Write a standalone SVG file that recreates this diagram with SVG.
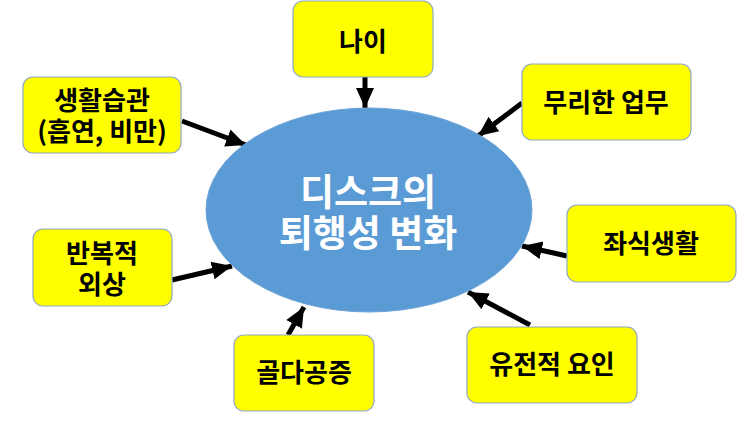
<svg xmlns="http://www.w3.org/2000/svg" width="743" height="427" viewBox="0 0 743 427">
<defs>
<style>
.box{fill:#FFFF00;stroke:#8FA7C0;stroke-width:1.2}
.t{font-family:"Noto Sans CJK KR","Liberation Sans",sans-serif;font-weight:bold;font-size:26px;fill:#000;text-anchor:middle}
.c{font-family:"Noto Sans CJK KR","Liberation Sans",sans-serif;font-weight:bold;font-size:37px;fill:#fff;text-anchor:middle}
.a{stroke:#000;stroke-width:5;fill:none;marker-end:url(#ah)}
</style>
<marker id="ah" markerUnits="userSpaceOnUse" markerWidth="22" markerHeight="22" viewBox="0 0 22 22" refX="20" refY="11" orient="auto">
<path d="M0,2 L20,11 L0,20 Z" fill="#000"/>
</marker>
</defs>
<rect width="743" height="427" fill="#fff"/>
<g id="connectors">
<line class="a" x1="365" y1="77" x2="365" y2="108"/>
<line class="a" x1="182" y1="121" x2="246" y2="145"/>
<line class="a" x1="522" y1="103" x2="478" y2="136"/>
<line class="a" x1="172" y1="280" x2="232" y2="266"/>
<line class="a" x1="567" y1="256" x2="522" y2="246"/>
<line class="a" x1="530" y1="325" x2="468" y2="292"/>
<line class="a" x1="288" y1="335" x2="304" y2="307"/>
</g>
<g id="center">
<ellipse cx="369" cy="210" rx="163" ry="102" fill="#5B9BD5" stroke="#6FA4D8" stroke-width="1"/>
<text class="c" x="368" y="206">디스크의</text>
<text class="c" x="368" y="247">퇴행성 변화</text>
</g>
<g id="n-age">
<rect class="box" x="293" y="1" width="140" height="76" rx="10"/>
<text class="t" x="363" y="51">나이</text>
</g>
<g id="n-habit">
<rect class="box" x="23" y="77" width="158" height="76" rx="10"/>
<text class="t" x="102" y="110">생활습관</text>
<text class="t" x="102" y="141">(흡연, 비만)</text>
</g>
<g id="n-work">
<rect class="box" x="522" y="64" width="169" height="76" rx="10"/>
<text class="t" x="606" y="112">무리한 업무</text>
</g>
<g id="n-trauma">
<rect class="box" x="33" y="229" width="139" height="77" rx="10"/>
<text class="t" x="102" y="263">반복적</text>
<text class="t" x="102" y="294">외상</text>
</g>
<g id="n-sit">
<rect class="box" x="567" y="205" width="169" height="77" rx="10"/>
<text class="t" x="651" y="253">좌식생활</text>
</g>
<g id="n-gene">
<rect class="box" x="467" y="327" width="170" height="76" rx="10"/>
<text class="t" x="552" y="374">유전적 요인</text>
</g>
<g id="n-osteo">
<rect class="box" x="234" y="335" width="140" height="76" rx="10"/>
<text class="t" x="304" y="382">골다공증</text>
</g>
</svg>
